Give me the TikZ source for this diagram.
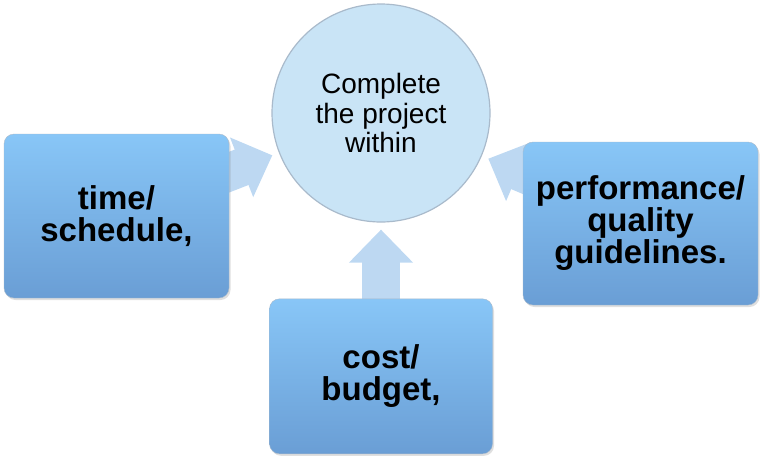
\documentclass[tikz,border=0pt]{standalone}
\usepackage{fontspec}
\setmainfont{Liberation Sans}
\usetikzlibrary{arrows.meta,positioning,backgrounds,shadows}
\definecolor{boxtop}{HTML}{88C6F7}
\definecolor{boxbot}{HTML}{6A9ED5}
\definecolor{goalfill}{HTML}{C9E4F6}
\definecolor{goalline}{HTML}{A9BACB}
\definecolor{flowcol}{HTML}{BDD8F2}

\begin{document}
\begin{tikzpicture}[x=1pt, y=-1pt,
    box/.style={draw=goalline, rounded corners=10pt, top color=boxtop, bottom color=boxbot,
      align=center, inner sep=0pt, font=\fontsize{33}{32}\selectfont\bfseries,
      drop shadow={opacity=0.25, shadow xshift=1.5pt, shadow yshift=-2pt}},
    goal/.style={circle, draw=goalline, line width=1.2pt, fill=goalfill, minimum size=218pt,
      inner sep=0pt, align=center, font=\fontsize{28}{29.5}\selectfont},
    flow/.style={draw=flowcol, line width=38pt, -{Triangle[width=62pt, length=33pt]}, shorten >=7pt}]
\useasboundingbox (0,0) rectangle (770,467);

\node[goal] (goal) at (381,113) {Complete\\the project\\within};
\node[box, minimum width=225pt, minimum height=164pt] (time) at (116.5,216) {time/\\schedule,};
\node[box, minimum width=223pt, minimum height=155pt, below=76pt of goal] (cost) {cost/\\budget,};
\node[box, minimum width=235pt, minimum height=163pt] (perf) at (640.5,223.5) {performance/\\quality\\guidelines.};

% block arrows into the goal
\begin{scope}[on background layer]
\draw[flow] (time.center) -- (goal);
\draw[flow] (cost.center) -- (goal);
\draw[flow] (perf.center) -- (goal);
\end{scope}
\end{tikzpicture}
\end{document}
